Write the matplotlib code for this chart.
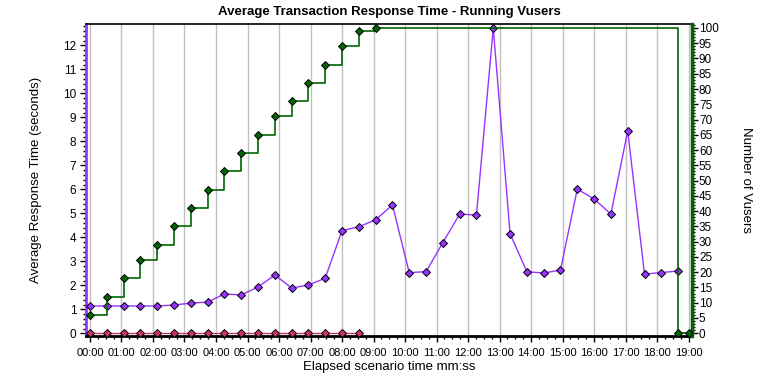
import matplotlib
matplotlib.use("Agg")
import matplotlib.pyplot as plt
from matplotlib.ticker import MultipleLocator, FuncFormatter

plt.rcParams['font.family'] = ['Liberation Sans', 'DejaVu Sans']

# sample times in seconds (one sample every 32 s)
resp_times = [i * 32 for i in range(36)]
avg_response = [1.14, 1.14, 1.14, 1.14, 1.14, 1.18, 1.26, 1.30, 1.64, 1.60,
                1.93, 2.43, 1.89, 2.01, 2.30, 4.28, 4.44, 4.73, 5.35, 2.53,
                2.57, 3.78, 4.97, 4.93, 12.72, 4.15, 2.57, 2.51, 2.64, 6.01,
                5.60, 4.97, 8.43, 2.47, 2.53, 2.60]

# second transaction (flat at zero)
zero_times = [i * 32 for i in range(17)]
zero_resp = [0.0] * 17

# running vusers
vuser_times = [i * 32 for i in range(18)] + [1120, 1140]
vusers = [6, 12, 18, 24, 29, 35, 41, 47, 53, 59, 65, 71, 76, 82, 88, 94, 99, 100, 0, 0]

purple = '#9933ff'
crimson = '#cc3366'
green = '#006600'

fig = plt.figure(figsize=(7.78, 3.90), dpi=100)
ax = fig.add_axes([0.1105, 0.1385, 0.779, 0.80])
ax2 = ax.twinx()

# grid
ax.set_xlim(-7.6, 1146.5)
ax.set_ylim(-0.11, 12.89)
ax2.set_ylim(-0.9, 101.3)
ax.xaxis.set_major_locator(MultipleLocator(60))
ax.xaxis.set_minor_locator(MultipleLocator(15))
ax.xaxis.set_major_formatter(FuncFormatter(lambda v, p: "%02d:%02d" % (int(v) // 60, int(v) % 60)))
ax.grid(axis='x', color='#c0c0c0', linewidth=1)
ax.set_axisbelow(True)

ax.yaxis.set_major_locator(MultipleLocator(1))
ax.yaxis.set_minor_locator(MultipleLocator(0.2))
ax2.yaxis.set_major_locator(MultipleLocator(5))
ax2.yaxis.set_minor_locator(MultipleLocator(1))

mk = dict(marker='D', markersize=4, markeredgecolor='black', markeredgewidth=0.7)
ax.plot(zero_times, zero_resp, color=crimson, linewidth=1, markerfacecolor=crimson, zorder=3, **mk)
ax.plot(resp_times, avg_response, color=purple, linewidth=1, markerfacecolor=purple, zorder=4, **mk)
ax2.step(vuser_times, vusers, where='post', color=green, linewidth=1.2, zorder=3)
ax2.plot(vuser_times, vusers, linestyle='none', markerfacecolor=green, zorder=4, **mk)

# spines
ax.spines['left'].set_color(purple)
ax.spines['left'].set_linewidth(2)
ax.spines['bottom'].set_linewidth(2)
ax.spines['top'].set_linewidth(1.2)
ax.spines['right'].set_visible(False)
ax2.spines['right'].set_color(green)
ax2.spines['right'].set_linewidth(2.5)
ax2.spines['left'].set_visible(False)
ax2.spines['top'].set_visible(False)
ax2.spines['bottom'].set_visible(False)

ax.tick_params(axis='y', which='major', length=4, width=1, labelsize=8.5, pad=3)
ax.tick_params(axis='x', which='major', length=4, width=1, labelsize=8, pad=5)
ax.tick_params(axis='both', which='minor', length=2, width=1)
ax2.tick_params(axis='y', which='major', length=4, width=1, labelsize=8.5, pad=1)
ax2.tick_params(axis='y', which='minor', length=2, width=1)

ax.set_xlabel('Elapsed scenario time mm:ss', fontsize=9.5, labelpad=2)
ax.set_ylabel('Average Response Time (seconds)', fontsize=9.5, labelpad=15)
ax2.set_ylabel('Number of Vusers', fontsize=9.5, rotation=270, labelpad=24)
fig.suptitle('Average Transaction Response Time - Running Vusers', fontsize=9.5,
             fontweight='bold', y=0.985)

fig.savefig('out.png', dpi=100)
